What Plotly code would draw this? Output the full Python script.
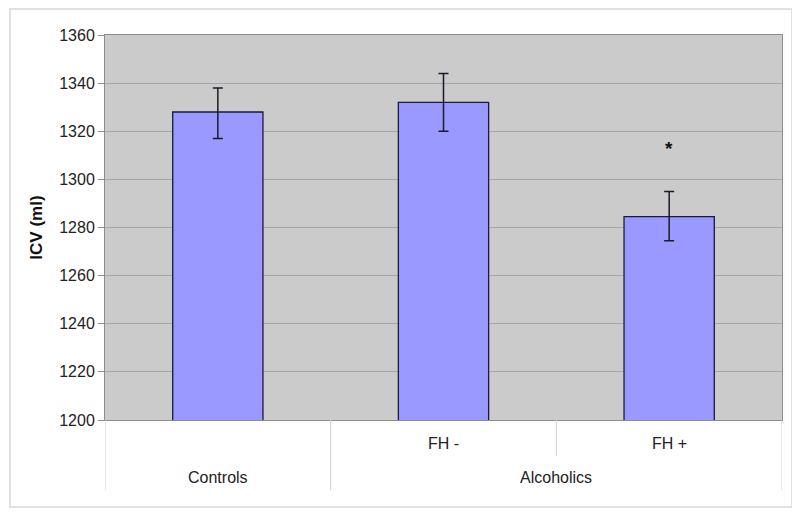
import plotly.graph_objects as go

# data
groups = ["Controls", "FH -", "FH +"]
icv = [1328, 1332, 1284.5]
err_plus = [10, 12, 10.5]
err_minus = [11, 12, 10]
sub_labels = ["", "FH -", "FH +"]
top_labels = ["Controls", "Alcoholics"]
y_ticks = [1200, 1220, 1240, 1260, 1280, 1300, 1320, 1340, 1360]
star_y = 1313

xs = list(range(len(groups)))

fig = go.Figure()
fig.add_trace(go.Bar(
    x=xs, y=icv, width=0.4,
    marker=dict(color="#9999ff", line=dict(color="#1a1a40", width=1.3)),
    error_y=dict(type="data", symmetric=False, array=err_plus, arrayminus=err_minus,
                 color="#1a1a2a", thickness=1.5, width=5),
))

font = dict(family="Liberation Sans, Arial", size=16, color="#222")

annotations = [dict(x=2, y=star_y, text="<b>*</b>", showarrow=False, xref="x", yref="y",
                    font=dict(family="Liberation Sans, Arial", size=19, color="#111"))]
# second row of category table (sub labels)
for i, lab in enumerate(sub_labels):
    if lab:
        annotations.append(dict(x=i, y=-0.06, xref="x", yref="paper", text=lab,
                                yanchor="middle", showarrow=False, font=font))
# first row: group labels
annotations.append(dict(x=0, y=-0.15, xref="x", yref="paper", text=top_labels[0],
                        yanchor="middle", showarrow=False, font=font))
annotations.append(dict(x=1.5, y=-0.15, xref="x", yref="paper", text=top_labels[1],
                        yanchor="middle", showarrow=False, font=font))

line_col = "#d0d0d0"
shapes = [
    # category table dividers
    dict(type="line", xref="x", yref="paper", x0=-0.5, x1=-0.5, y0=0, y1=-0.182,
         line=dict(color=line_col, width=1)),
    dict(type="line", xref="x", yref="paper", x0=0.5, x1=0.5, y0=0, y1=-0.182,
         line=dict(color=line_col, width=1)),
    dict(type="line", xref="x", yref="paper", x0=1.5, x1=1.5, y0=0, y1=-0.094,
         line=dict(color=line_col, width=1)),
    dict(type="line", xref="x", yref="paper", x0=2.5, x1=2.5, y0=0, y1=-0.182,
         line=dict(color=line_col, width=1)),
    # outer chart border
    dict(type="rect", xref="paper", yref="paper", x0=-0.1403, x1=1.0148, y0=-0.226, y1=1.0675,
         line=dict(color="#d8d8d8", width=1.5), layer="below"),
]

# page body has an 8px margin, so margins are shifted to compensate
fig.update_layout(
    width=800, height=513,
    margin=dict(l=97, r=26, t=27, b=101),
    paper_bgcolor="white",
    plot_bgcolor="#cbcbcb",
    showlegend=False,
    annotations=annotations,
    shapes=shapes,
    xaxis=dict(range=[-0.5, 2.5], showticklabels=False, showgrid=False, zeroline=False,
               showline=True, linecolor="#8c8c8c", linewidth=1, mirror=True, ticks=""),
    yaxis=dict(range=[1200, 1360], tickvals=y_ticks, ticks="outside", ticklen=6,
               tickcolor="#8c8c8c", tickfont=font, showgrid=True, gridcolor="#a6a6a6",
               gridwidth=1, zeroline=False, showline=True, linecolor="#8c8c8c",
               mirror=True,
               title=dict(text="<b>ICV (ml)</b>", font=dict(family="Liberation Sans, Arial",
                                                           size=17, color="#111"),
                          standoff=12)),
)

fig.write_html("out.html")
